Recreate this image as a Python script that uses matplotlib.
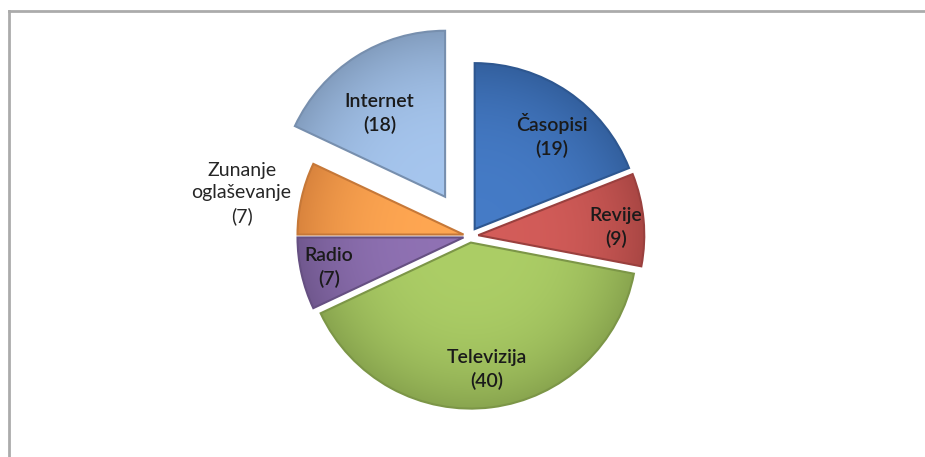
import numpy as np
import matplotlib.pyplot as plt
from matplotlib.colors import to_rgb
from matplotlib.lines import Line2D

# advertising spend share by medium
categories = ['Časopisi', 'Revije', 'Televizija', 'Radio', 'Zunanje\noglaševanje', 'Internet']
values = [19, 9, 40, 7, 7, 18]

colors = ['#3a6db4', '#c0504d', '#9bbb59', '#8064a2', '#f79646', '#95b3d9']
explode = [0.05, 0.05, 0.04, 0.04, 0.04, 0.28]
label_r = [0.73, 0.83, 0.77, 0.83, 1.36, 0.64]
label_turn = [-5, -2, 0, 0, 2, 4]  # small angular nudges, degrees

W, H = 925, 457
fig = plt.figure(figsize=(W / 100, H / 100), dpi=100)
ax = fig.add_axes([0, 0, 1, 1])

cx, cy, R = 470, H - 236, 166

# pie explode is in data units, so scale by the radius
wedges, _ = ax.pie(values, colors=colors, explode=[e * R for e in explode],
                   startangle=90, counterclock=False, center=(cx, cy), radius=R,
                   wedgeprops=dict(linewidth=1.5))

# shade each slice: a bit lighter inside, darker at the rim
yy, xx = np.mgrid[0:H, 0:W]
for w, c in zip(wedges, colors):
    ox, oy = w.center
    dist = np.hypot(xx - ox, (H - yy) - oy) / R
    base = np.array(to_rgb(c))
    light = np.clip(base * 1.06 + 0.03, 0, 1)
    t = np.clip(dist, 0, 1)[..., None] ** 3
    img = np.clip(light * (1 - t) + base * 0.88 * t, 0, 1)
    im = ax.imshow(img, extent=(0, W, 0, H), origin='upper', zorder=2)
    im.set_clip_path(w)
    w.set_edgecolor(base * 0.8)
    w.set_facecolor('none')
    w.set_zorder(3)

# labels with value in brackets
total = sum(values)
start = 90.0
for name, v, ex, lr, turn in zip(categories, values, explode, label_r, label_turn):
    mid = np.deg2rad(start - 360.0 * v / total / 2 + turn)
    start -= 360.0 * v / total
    d = (lr + ex) * R
    x, y = cx + d * np.cos(mid), cy + d * np.sin(mid)
    inside = lr < 1
    ax.text(x, y, f'{name}\n({v})', ha='center', va='center', fontsize=14,
            family='Lato', fontweight='semibold' if inside else 'normal',
            color='#1a1a1a' if inside else '#262626', linespacing=1.4, zorder=10)

ax.set_xlim(0, W)
ax.set_ylim(0, H)
ax.set_aspect('equal')
ax.axis('off')

# chart area frame
frame_kw = dict(color='#ababab', linewidth=2, zorder=11)
ax.add_line(Line2D([9, W], [H - 10.5, H - 10.5], **frame_kw))
ax.add_line(Line2D([9, 9], [H - 10.5, 0], **frame_kw))

fig.savefig('out.png', dpi=100, facecolor='white')
